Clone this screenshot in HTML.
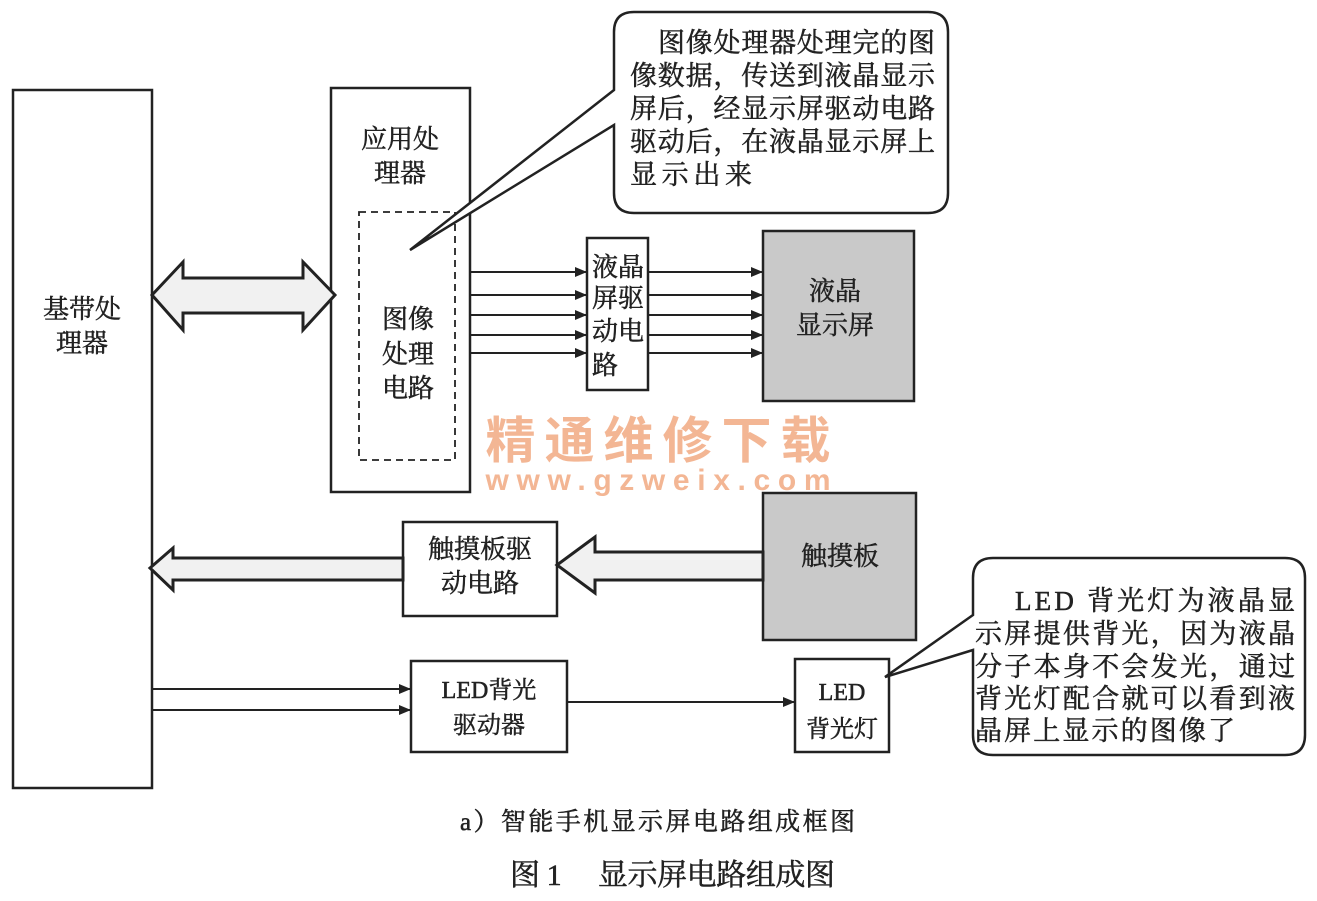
<!DOCTYPE html>
<html><head><meta charset="utf-8"><style>
html,body{margin:0;padding:0;background:#fff;}
svg{display:block;}
text{font-family:"Liberation Serif","Noto Serif CJK SC","Noto Sans CJK SC",serif;fill:#222;}
.s{font-family:"Liberation Sans","Noto Sans CJK SC",sans-serif;}
.b{stroke:#222;stroke-width:0.5;}
</style></head><body>
<svg width="1317" height="901" viewBox="0 0 1317 901" xmlns="http://www.w3.org/2000/svg">
<defs>
<marker id="ah" markerWidth="12" markerHeight="10" refX="12" refY="5" orient="auto" markerUnits="userSpaceOnUse">
<path d="M0,0 L12,5 L0,10 Z" fill="#222"/></marker>
</defs>
<g stroke="#222" stroke-width="2.5" fill="none">
<rect x="13" y="90" width="139" height="698" fill="#fff"/>
<rect x="331" y="88" width="139" height="404" fill="#fff"/>
<rect x="359" y="212" width="96" height="248" stroke-dasharray="7,5" stroke-width="1.8"/>
<rect x="587" y="238" width="61" height="152" fill="#fff"/>
<rect x="763" y="231" width="151" height="170" fill="#c9c9c9"/>
<rect x="763" y="493" width="153" height="147" fill="#c9c9c9"/>
<rect x="403" y="522" width="154" height="94" fill="#fff"/>
<rect x="411" y="661" width="156" height="91" fill="#fff"/>
<rect x="795" y="659" width="94" height="93" fill="#fff"/>
</g>
<path d="M152,295 L183,262 L183,278 L303,278 L303,262 L335,295 L303,330 L303,313 L183,313 L183,330 Z" fill="#f1f1f1" stroke="#222" stroke-width="3"/>
<path d="M557,565 L595,537 L595,552 L763,552 L763,580 L595,580 L595,593 Z" fill="#f1f1f1" stroke="#222" stroke-width="3"/>
<path d="M150,568 L173,548 L173,558 L403,558 L403,580 L173,580 L173,590 Z" fill="#f1f1f1" stroke="#222" stroke-width="3"/>
<g stroke="#222" stroke-width="2" marker-end="url(#ah)">
<line x1="470" y1="272" x2="587" y2="272"/><line x1="470" y1="295" x2="587" y2="295"/>
<line x1="470" y1="315" x2="587" y2="315"/><line x1="470" y1="335" x2="587" y2="335"/>
<line x1="470" y1="353" x2="587" y2="353"/>
<line x1="648" y1="272" x2="763" y2="272"/><line x1="648" y1="295" x2="763" y2="295"/>
<line x1="648" y1="315" x2="763" y2="315"/><line x1="648" y1="335" x2="763" y2="335"/>
<line x1="648" y1="353" x2="763" y2="353"/>
<line x1="152" y1="689" x2="411" y2="689"/><line x1="152" y1="710" x2="411" y2="710"/>
<line x1="567" y1="702" x2="795" y2="702"/>
</g>
<path d="M634,12 L928,12 Q948,12 948,32 L948,193 Q948,213 928,213 L634,213 Q614,213 614,193 L614,125 L410,250 L614,90 L614,32 Q614,12 634,12 Z" fill="#fff" stroke="#222" stroke-width="2.5"/>
<path d="M993,558 L1285,558 Q1305,558 1305,578 L1305,735 Q1305,755 1285,755 L993,755 Q973,755 973,735 L973,650 L885,677 L973,615 L973,578 Q973,558 993,558 Z" fill="#fff" stroke="#222" stroke-width="2.5"/>
<g font-size="27" class="b">
<text x="658" y="52" textLength="277">图像处理器处理完的图</text>
<text x="630" y="85" textLength="305">像数据，传送到液晶显示</text>
<text x="630" y="118" textLength="305">屏后，经显示屏驱动电路</text>
<text x="630" y="151" textLength="305">驱动后，在液晶显示屏上</text>
<text x="630" y="184" textLength="122">显示出来</text>
<text x="1015" y="610" textLength="280">LED 背光灯为液晶显</text>
<text x="975" y="643" textLength="320">示屏提供背光，因为液晶</text>
<text x="975" y="676" textLength="320">分子本身不会发光，通过</text>
<text x="975" y="708" textLength="320">背光灯配合就可以看到液</text>
<text x="975" y="740" textLength="260">晶屏上显示的图像了</text>
</g>
<g font-size="26" text-anchor="middle" class="s b">
<text x="82" y="318">基带处</text><text x="82" y="352">理器</text>
<text x="400" y="148">应用处</text><text x="400" y="182">理器</text>
<text x="408" y="328">图像</text><text x="408" y="363">处理</text><text x="408" y="397">电路</text>
<text x="618" y="276">液晶</text><text x="618" y="307">屏驱</text><text x="618" y="340">动电</text><text x="605" y="374">路</text>
<text x="835" y="300">液晶</text><text x="835" y="334">显示屏</text>
<text x="840" y="565">触摸板</text>
<text x="480" y="558">触摸板驱</text><text x="480" y="592">动电路</text>
</g>
<g font-size="24" text-anchor="middle" class="b">
<text x="489" y="698">LED背光</text><text x="489" y="733">驱动器</text>
<text x="842" y="700">LED</text><text x="842" y="737">背光灯</text>
</g>
<text x="658" y="458" font-size="50" text-anchor="middle" class="s" style="fill:#f3b694;font-weight:bold" textLength="345">精通维修下载</text>
<text x="658" y="490" font-size="30" text-anchor="middle" class="s" style="fill:#f3b694;font-weight:bold" textLength="345">www.gzweix.com</text>
<text x="460" y="830" font-size="25" textLength="395" class="b">a）智能手机显示屏电路组成框图</text>
<text x="510" y="885" font-size="30" textLength="325" class="b">图 1　 显示屏电路组成图</text>
</svg>
</body></html>
